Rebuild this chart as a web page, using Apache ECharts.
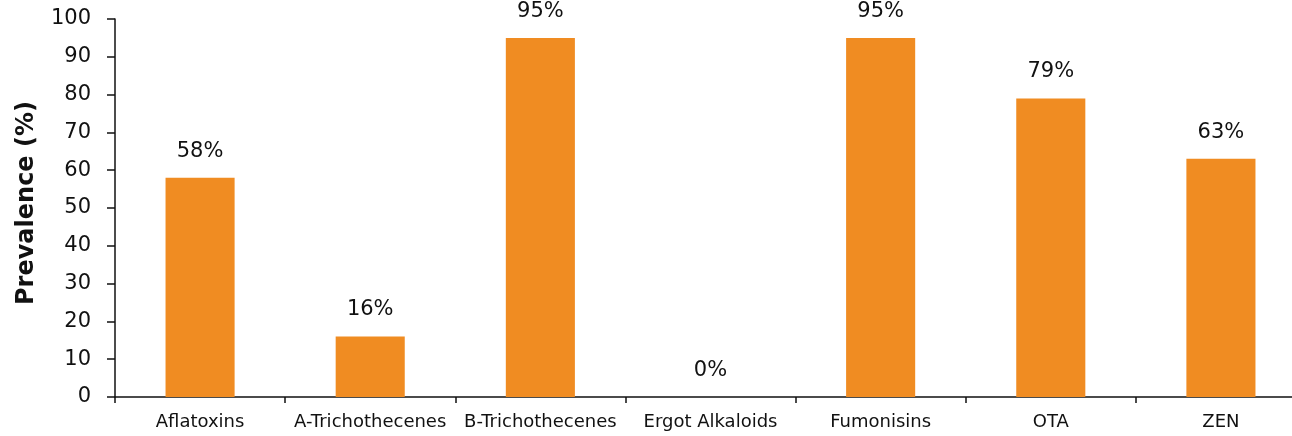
<!DOCTYPE html>
<html>
<head>
<meta charset="utf-8">
<script src="https://cdn.jsdelivr.net/npm/echarts@6/dist/echarts.min.js"></script>
<style>
  html, body { margin: 0; padding: 0; background: #fff; overflow: hidden; }
  #chart { width: 1292px; height: 436px; }
</style>
</head>
<body>
<div id="chart"></div>
<script>
const categories = ['Aflatoxins', 'A-Trichothecenes', 'B-Trichothecenes', 'Ergot Alkaloids', 'Fumonisins', 'OTA', 'ZEN'];
const prevalence = [58, 16, 95, 0, 95, 79, 63];
const yAxisName = 'Prevalence (%)';

const FONT = '"DejaVu Sans", sans-serif';
const INK = '#111111';

const chart = echarts.init(document.getElementById('chart'), null, { renderer: 'canvas' });
chart.setOption({
  animation: false,
  backgroundColor: '#ffffff',
  // the plot runs a little past the right edge of the canvas
  grid: { left: 115, width: 1191, top: 19, bottom: 39, containLabel: false, outerBoundsMode: 'none' },
  xAxis: {
    type: 'category',
    data: categories,
    axisLine: { show: true, lineStyle: { color: INK, width: 1.5 } },
    axisTick: { show: true, alignWithLabel: false, length: 6, lineStyle: { color: INK, width: 1.5 } },
    axisLabel: { color: INK, fontFamily: FONT, fontSize: 18, margin: 16, interval: 0 }
  },
  yAxis: {
    type: 'value',
    min: 0,
    max: 100,
    interval: 10,
    name: yAxisName,
    nameLocation: 'middle',
    nameGap: 76,
    nameTextStyle: { color: INK, fontFamily: FONT, fontSize: 24, fontWeight: 'bold', padding: [0, 0, 0, 10] },
    axisLine: { show: true, lineStyle: { color: INK, width: 1.5 } },
    axisTick: { show: true, length: 8, lineStyle: { color: INK, width: 1.5 } },
    axisLabel: { color: INK, fontFamily: FONT, fontSize: 21, margin: 24 },
    splitLine: { show: false }
  },
  series: [{
    type: 'bar',
    data: prevalence,
    barWidth: '40.6%',
    itemStyle: { color: '#F08C22' },
    label: {
      show: true,
      position: 'top',
      distance: 16,
      formatter: '{c}%',
      color: INK,
      fontFamily: FONT,
      fontSize: 21
    }
  }]
});
</script>
</body>
</html>
